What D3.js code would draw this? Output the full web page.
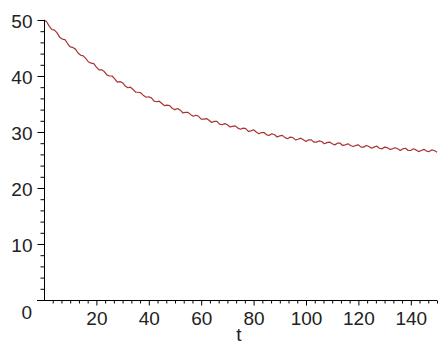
<!DOCTYPE html>
<html>
<head>
<meta charset="utf-8">
<script src="https://cdn.jsdelivr.net/npm/d3@7"></script>
<style>
  html, body { margin: 0; padding: 0; background: #fff; }
  svg { display: block; }
  text { font-family: "Liberation Sans", Arial, sans-serif; font-size: 19px; fill: #222; }
</style>
</head>
<body>
<script>
// ---- data ----
const tStart = 0;        // first t value
const tStep = 1;         // spacing of samples
const yValues = [
  50.0, 49.7, 48.9, 48.3, 48.2, 47.7, 46.9, 46.6, 46.5, 45.8,
  45.2, 45.1, 44.8, 44.1, 43.7, 43.6, 43.1, 42.5, 42.3, 42.2,
  41.6, 41.1, 41.1, 40.8, 40.2, 40.0, 40.0, 39.5, 38.9, 39.0,
  38.8, 38.2, 37.9, 38.0, 37.6, 37.1, 37.1, 37.0, 36.5, 36.2,
  36.3, 36.1, 35.5, 35.4, 35.5, 35.1, 34.7, 34.8, 34.7, 34.2,
  34.0, 34.2, 33.9, 33.4, 33.5, 33.5, 33.1, 32.8, 33.0, 32.8,
  32.3, 32.3, 32.4, 32.1, 31.7, 31.9, 31.9, 31.4, 31.3, 31.5,
  31.3, 30.9, 31.0, 31.1, 30.7, 30.5, 30.7, 30.6, 30.1, 30.2,
  30.4, 30.0, 29.7, 29.9, 29.9, 29.5, 29.4, 29.7, 29.5, 29.1,
  29.3, 29.4, 29.0, 28.8, 29.1, 29.0, 28.6, 28.7, 28.9, 28.6,
  28.3, 28.6, 28.6, 28.2, 28.2, 28.4, 28.3, 27.9, 28.1, 28.2,
  27.9, 27.7, 28.0, 28.0, 27.6, 27.7, 27.9, 27.6, 27.4, 27.6,
  27.7, 27.3, 27.3, 27.6, 27.4, 27.1, 27.3, 27.5, 27.1, 27.0,
  27.3, 27.2, 26.9, 27.0, 27.2, 27.0, 26.7, 27.0, 27.1, 26.7,
  26.7, 27.0, 26.8, 26.5, 26.7, 26.9, 26.6, 26.5, 26.8, 26.7,
  26.4
];
const xDomain = [0, 150];
const yDomain = [0, 50];
const xMajorTicks = [20, 40, 60, 80, 100, 120, 140];
const yMajorTicks = [10, 20, 30, 40, 50];
const xMinorCount = 45;   // minor x ticks every 20/6
const yMinorTicks = [2, 4, 6, 8, 12, 14, 16, 18, 22, 24, 26, 28, 32, 34, 36, 38, 42, 44, 46, 48];
const xLabel = "t";
const originLabel = "0";

// ---- layout ----
const W = 439, H = 346;
const svg = d3.select("body").append("svg").attr("width", W).attr("height", H);

const x = d3.scaleLinear().domain(xDomain).range([44, 437]);
const y = d3.scaleLinear().domain(yDomain).range([300, 20]);

const data = yValues.map((v, i) => ({ t: tStart + i * tStep, v }));

// curve
const line = d3.line().x(d => x(d.t)).y(d => y(d.v));
svg.append("path")
  .datum(data)
  .attr("fill", "none")
  .attr("stroke", "#a83434")
  .attr("stroke-width", 1.2)
  .attr("stroke-linejoin", "round")
  .attr("d", line);

// x axis (ticks down)
const x0 = Math.round(y(0)) + 0.5;
const xMinor = d3.range(1, xMinorCount + 1).map(k => k * 20 / 6)
  .filter(v => !xMajorTicks.some(m => Math.abs(m - v) < 1e-6));
const gx = svg.append("g").attr("transform", `translate(0,${x0})`);
gx.append("g")
  .call(d3.axisBottom(x).tickValues(xMinor).tickSize(3).tickFormat(""))
  .call(g => g.select(".domain").remove());
gx.append("g")
  .call(d3.axisBottom(x).tickValues(xMajorTicks).tickSize(5).tickPadding(6).tickFormat(d3.format("d")))
  .call(g => g.select(".domain").remove());
gx.append("line").attr("x1", 37).attr("x2", 437).attr("y1", 0).attr("y2", 0).attr("stroke", "#000");
gx.selectAll(".tick line").attr("stroke", "#000");
gx.selectAll(".tick text")
  .attr("font-size", 19)
  .attr("font-family", "Liberation Sans, Arial, sans-serif")
  .attr("fill", "#222");

// y axis (ticks left)
const y0 = Math.round(x(0)) + 0.5;
const gy = svg.append("g").attr("transform", `translate(${y0},0)`);
gy.append("g")
  .call(d3.axisLeft(y).tickValues(yMinorTicks).tickSize(4).tickFormat(""))
  .call(g => g.select(".domain").remove());
gy.append("g")
  .call(d3.axisLeft(y).tickValues(yMajorTicks).tickSize(7).tickPadding(5).tickFormat(d3.format("d")))
  .call(g => g.select(".domain").remove());
gy.append("line").attr("x1", 0).attr("x2", 0).attr("y1", y(50)).attr("y2", y(0)).attr("stroke", "#000");
gy.selectAll(".tick line").attr("stroke", "#000");
gy.selectAll(".tick text")
  .attr("font-size", 19)
  .attr("font-family", "Liberation Sans, Arial, sans-serif")
  .attr("fill", "#222")
  .attr("dy", "0.42em");

// origin label and axis title
svg.append("text")
  .attr("x", 32).attr("y", y(0) + 19)
  .attr("text-anchor", "end")
  .text(originLabel);
svg.append("text")
  .attr("x", (37 + 437) / 2 + 2).attr("y", 341)
  .attr("text-anchor", "middle")
  .text(xLabel);
</script>
</body>
</html>
